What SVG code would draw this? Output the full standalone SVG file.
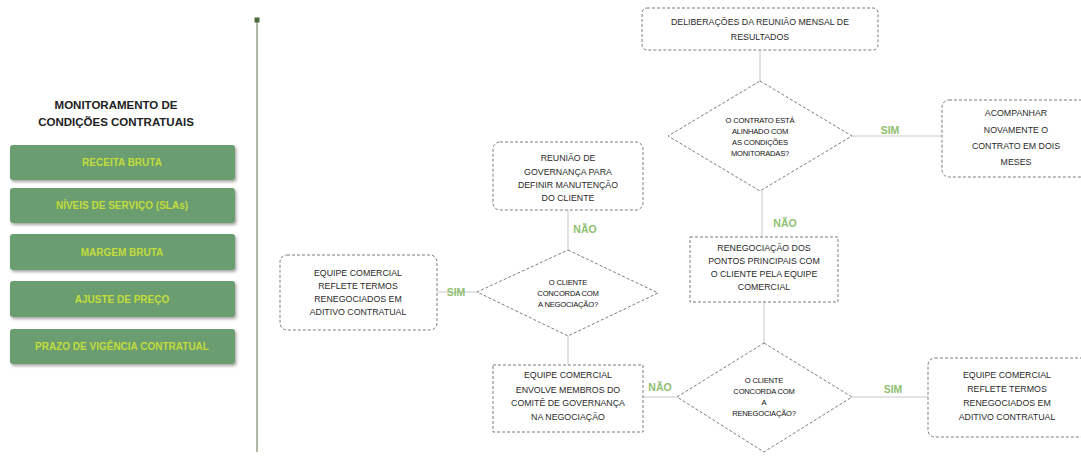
<svg xmlns="http://www.w3.org/2000/svg" width="1081" height="456" viewBox="0 0 1081 456">
<defs>
<filter id="sh" x="-10%" y="-20%" width="120%" height="150%">
<feDropShadow dx="1.5" dy="2" stdDeviation="1.5" flood-color="#000" flood-opacity="0.35"/>
</filter>
</defs>
<style>
.bg{fill:#ffffff}
.nb{fill:#ffffff;stroke:#7d7d7d;stroke-width:1;stroke-dasharray:3 2}
.pb{fill:#6b9d6f;filter:url(#sh)}
.pt{font-family:"Liberation Sans",Arial,sans-serif;font-size:10px;font-weight:bold;fill:#c3dc3c;text-anchor:middle}
.tt{font-family:"Liberation Sans",Arial,sans-serif;font-size:11.5px;font-weight:bold;fill:#222;text-anchor:middle}
.bt{font-family:"Liberation Sans",Arial,sans-serif;font-size:8.8px;fill:#2a2a2a;text-anchor:middle}
.dt{font-family:"Liberation Sans",Arial,sans-serif;font-size:7.6px;fill:#111;text-anchor:middle;letter-spacing:-0.2px}
.lb{font-family:"Liberation Sans",Arial,sans-serif;font-size:10.5px;font-weight:bold;fill:#8fc070;text-anchor:middle}
.cn{stroke:#c8c8c8;stroke-width:1;fill:none}
</style>
<rect class="bg" x="0" y="0" width="1081" height="456"/>

<g id="panel">
<text class="tt" x="116" y="109">MONITORAMENTO DE</text>
<text class="tt" x="116" y="126">CONDIÇÕES CONTRATUAIS</text>
<g id="p1"><rect class="pb" x="10" y="145" width="225" height="35" rx="3"/><text class="pt" x="122" y="166">RECEITA BRUTA</text></g>
<g id="p2"><rect class="pb" x="10" y="188" width="225" height="35" rx="3"/><text class="pt" x="122" y="209">NÍVEIS DE SERVIÇO (SLAs)</text></g>
<g id="p3"><rect class="pb" x="10" y="234" width="225" height="36" rx="3"/><text class="pt" x="122" y="256">MARGEM BRUTA</text></g>
<g id="p4"><rect class="pb" x="10" y="281" width="225" height="36" rx="3"/><text class="pt" x="122" y="303">AJUSTE DE PREÇO</text></g>
<g id="p5"><rect class="pb" x="10" y="329" width="225" height="35" rx="3"/><text class="pt" x="122" y="350">PRAZO DE VIGÊNCIA CONTRATUAL</text></g>
</g>

<g id="divider">
<line x1="257" y1="20" x2="257" y2="452" stroke="#7a8a6a" stroke-width="1.2"/>
<rect x="254.5" y="17.5" width="5" height="5" fill="#4d6b3a"/>
</g>

<g id="connectors">
<line class="cn" x1="760" y1="50" x2="760" y2="81"/>
<line class="cn" x1="852" y1="136" x2="942" y2="136"/>
<line class="cn" x1="762" y1="191" x2="762" y2="237"/>
<line class="cn" x1="764" y1="302" x2="764" y2="343"/>
<line class="cn" x1="852" y1="397" x2="928" y2="397"/>
<line class="cn" x1="643" y1="397" x2="677" y2="397"/>
<line class="cn" x1="568" y1="210" x2="568" y2="250"/>
<line class="cn" x1="437" y1="292" x2="477" y2="292"/>
<line class="cn" x1="568" y1="336" x2="568" y2="365"/>
</g>

<g id="labels">
<text class="lb" x="890" y="134">SIM</text>
<text class="lb" x="785" y="227">NÃO</text>
<text class="lb" x="585" y="233">NÃO</text>
<text class="lb" x="456" y="296">SIM</text>
<text class="lb" x="660" y="391">NÃO</text>
<text class="lb" x="893" y="393">SIM</text>
</g>

<g id="n-delib">
<rect class="nb" x="642" y="8" width="236" height="42" rx="5"/>
<text class="bt" x="760" y="25">DELIBERAÇÕES  DA  REUNIÃO MENSAL  DE</text>
<text class="bt" x="760" y="40">RESULTADOS</text>
</g>

<g id="d-contrato">
<polygon class="nb" points="760,81 852,136 760,191 668,136"/>
<text class="dt" x="760" y="123">O CONTRATO ESTÁ</text>
<text class="dt" x="760" y="134">ALINHADO COM</text>
<text class="dt" x="760" y="145">AS CONDIÇÕES</text>
<text class="dt" x="760" y="156">MONITORADAS?</text>
</g>

<g id="n-acomp">
<rect class="nb" x="942" y="100" width="150" height="77" rx="7"/>
<text class="bt" x="1016" y="116">ACOMPANHAR</text>
<text class="bt" x="1016" y="133">NOVAMENTE  O</text>
<text class="bt" x="1016" y="149">CONTRATO  EM  DOIS</text>
<text class="bt" x="1016" y="165">MESES</text>
</g>

<g id="n-reneg">
<rect class="nb" x="690" y="237" width="148" height="65"/>
<text class="bt" x="764" y="251">RENEGOCIAÇÃO  DOS</text>
<text class="bt" x="764" y="264">PONTOS PRINCIPAIS COM</text>
<text class="bt" x="764" y="277">O CLIENTE  PELA  EQUIPE</text>
<text class="bt" x="764" y="290">COMERCIAL</text>
</g>

<g id="d-renegoc">
<polygon class="nb" points="764,343 852,397 764,452 677,397"/>
<text class="dt" x="764" y="383">O CLIENTE</text>
<text class="dt" x="764" y="394">CONCORDA COM</text>
<text class="dt" x="764" y="405">A</text>
<text class="dt" x="764" y="416">RENEGOCIAÇÃO?</text>
</g>

<g id="n-equipe-right">
<rect class="nb" x="928" y="358" width="160" height="79" rx="7"/>
<text class="bt" x="1007" y="378">EQUIPE COMERCIAL</text>
<text class="bt" x="1007" y="392">REFLETE  TERMOS</text>
<text class="bt" x="1007" y="406">RENEGOCIADOS  EM</text>
<text class="bt" x="1007" y="420">ADITIVO CONTRATUAL</text>
</g>

<g id="n-envolve">
<rect class="nb" x="493" y="365" width="150" height="67"/>
<text class="bt" x="568" y="378">EQUIPE COMERCIAL</text>
<text class="bt" x="568" y="393">ENVOLVE  MEMBROS  DO</text>
<text class="bt" x="568" y="406">COMITÊ DE GOVERNANÇA</text>
<text class="bt" x="568" y="420">NA NEGOCIAÇÃO</text>
</g>

<g id="d-negoc">
<polygon class="nb" points="568,250 658,293 568,336 477,292"/>
<text class="dt" x="568" y="285">O CLIENTE</text>
<text class="dt" x="568" y="296">CONCORDA COM</text>
<text class="dt" x="568" y="307">A NEGOCIAÇÃO?</text>
</g>

<g id="n-reuniao">
<rect class="nb" x="493" y="142" width="150" height="68" rx="7"/>
<text class="bt" x="568" y="161">REUNIÃO  DE</text>
<text class="bt" x="568" y="175">GOVERNANÇA  PARA</text>
<text class="bt" x="568" y="188">DEFINIR MANUTENÇÃO</text>
<text class="bt" x="568" y="201">DO CLIENTE</text>
</g>

<g id="n-equipe-left">
<rect class="nb" x="280" y="255" width="157" height="75" rx="7"/>
<text class="bt" x="358" y="276">EQUIPE  COMERCIAL</text>
<text class="bt" x="358" y="289">REFLETE  TERMOS</text>
<text class="bt" x="358" y="302">RENEGOCIADOS  EM</text>
<text class="bt" x="358" y="315">ADITIVO CONTRATUAL</text>
</g>
</svg>
